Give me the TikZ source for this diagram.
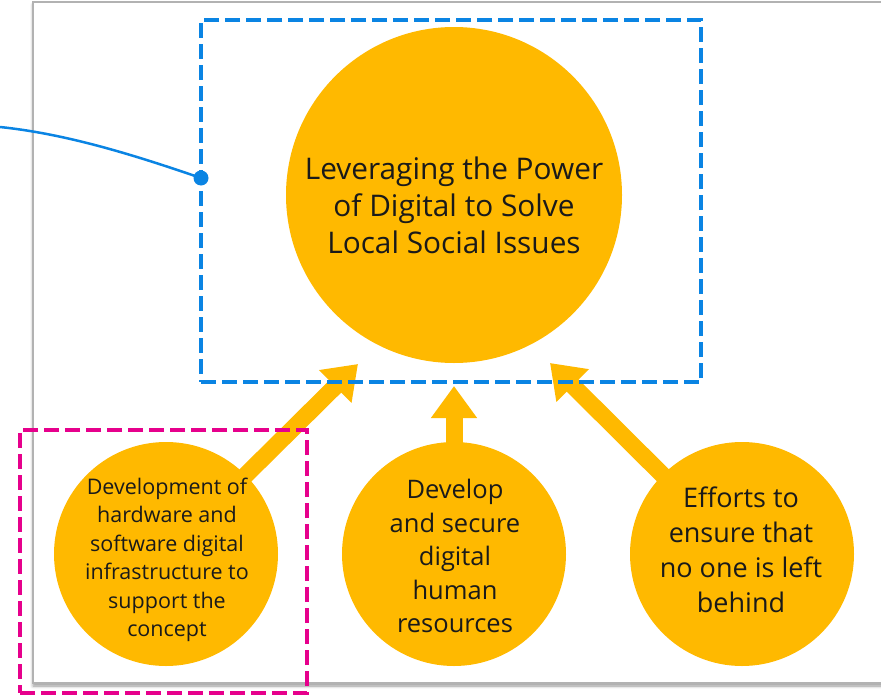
\documentclass[tikz,border=0pt]{standalone}
\usepackage{fontspec}
\setmainfont{Open Sans}
\usetikzlibrary{arrows.meta,backgrounds,shadows.blur}
\definecolor{sunyellow}{RGB}{255,185,0}
\definecolor{linkblue}{RGB}{10,132,227}
\definecolor{framepink}{RGB}{230,0,140}
\definecolor{inkgray}{RGB}{26,26,26}

\begin{document}
\begin{tikzpicture}[x=1pt,y=-1pt,
  disc/.style={circle,fill=sunyellow,inner sep=0pt},
  caption/.style={align=center,text=inkgray,inner sep=0pt},
  push/.style={sunyellow,line width=17pt,-{Triangle[width=44pt,length=32pt]}},
  dashbox/.style={line width=4.5pt,dash pattern=on 15pt off 6pt,inner sep=0pt}]
\path[use as bounding box,clip] (0,0) rectangle (881,696);
\begin{pgfonlayer}{background}
\path[draw=black!30,line width=1.5pt,fill=white,
  blur shadow={shadow xshift=0pt,shadow yshift=-3pt,shadow blur radius=3pt}]
  (33,2) rectangle (940,683);
\end{pgfonlayer}

\node[disc,minimum size=336pt] (goal) at (454,195) {};
\node[caption,font=\fontsize{29.8}{37}\selectfont] (goaltext) at (454,205)
  {Leveraging the Power\\of Digital to Solve\\Local Social Issues};

\node[disc,minimum size=224pt] (infra) at (166,554) {};
\node[caption,font=\fontsize{21.5}{28.5}\selectfont] (infratext) at (167,560)
  {Development of\\hardware and\\software digital\\infrastructure to\\support the\\concept};
\node[disc,minimum size=224pt] (people) at (454,554) {};
\node[caption,font=\fontsize{25.5}{33.5}\selectfont] (peopletext) at (455,556)
  {Develop\\and secure\\digital\\human\\resources};
\node[disc,minimum size=224pt] (inclusion) at (742,554) {};
\node[caption,font=\fontsize{27}{35}\selectfont] (inclusiontext) at (741,550)
  {Efforts to\\ensure that\\no one is left\\behind};

\node[draw=linkblue,dashbox,minimum width=500pt,minimum height=362pt] (focus) at (451,201) {};
\node[draw=framepink,dashbox,minimum width=287pt,minimum height=263pt] (hwbox) at (163.5,561.5) {};

\coordinate (tipA) at (358,364);
\coordinate (tipB) at (454,386);
\coordinate (tipC) at (550,363);
\begin{pgfonlayer}{background}
\draw[push] (infra.center) -- (tipA);
\draw[push] (people.center) -- (tipB);
\draw[push] (inclusion.center) -- (tipC);
\end{pgfonlayer}

\coordinate (feed) at (0,127);
\coordinate (hook) at (201,178);
\draw[linkblue,line width=2.5pt] (feed) .. controls (67,134) and (134,155) .. (hook);
\fill[linkblue] (hook) circle (7.5pt);
\end{tikzpicture}
\end{document}
